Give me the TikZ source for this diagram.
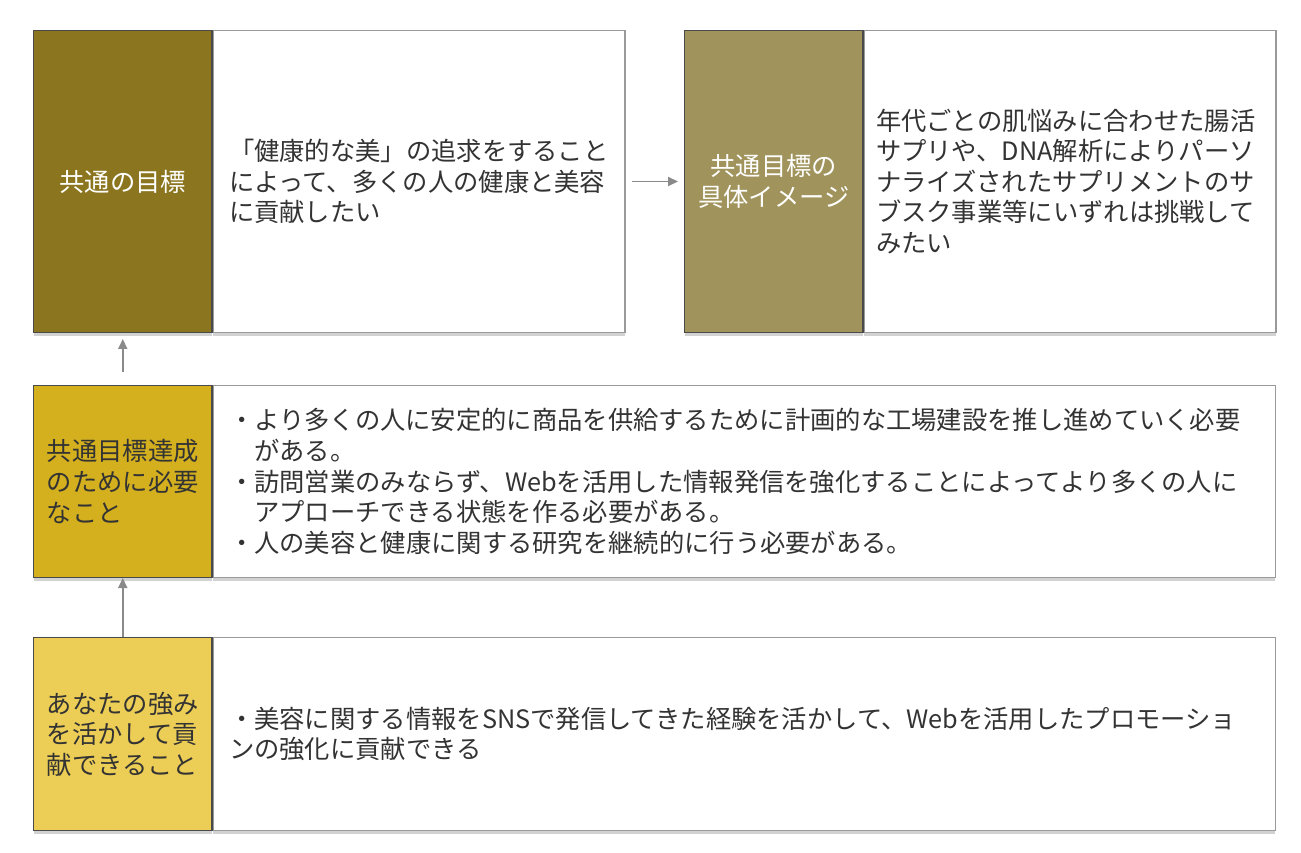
\documentclass[tikz,border=0pt]{standalone}
\usepackage{fontspec}
\setmainfont{Noto Sans CJK JP}
\usetikzlibrary{positioning,arrows.meta,shadows}
\definecolor{goalfill}{HTML}{8B761F}
\definecolor{imagefill}{HTML}{A0935B}
\definecolor{needfill}{HTML}{D4B01F}
\definecolor{strengthfill}{HTML}{ECCD55}
\definecolor{headline}{HTML}{4A4A4A}
\definecolor{panelline}{HTML}{9A9A9A}
\definecolor{bodytext}{HTML}{333333}
\definecolor{arrowgray}{HTML}{8A8A8A}
\definecolor{shadowgray}{HTML}{D2D2D2}
\newcommand{\jpsize}{\fontsize{14.4pt}{17.4pt}\selectfont}
\tikzset{
  boxshadow/.style={drop shadow={shadow xshift=0cm, shadow yshift=-0.07cm, fill=shadowgray, opacity=1}},
  headbox/.style={draw=headline, line width=0.6pt, minimum width=3.57cm, inner sep=0pt,
    anchor=north west, font=\jpsize, boxshadow},
  panelbox/.style={draw=panelline, fill=white, line width=0.6pt, align=left, text=bodytext,
    anchor=north west, inner xsep=0.32cm, inner ysep=0pt, font=\jpsize, boxshadow},
  linkarrow/.style={draw=arrowgray, line width=1.1pt, -{Triangle[length=0.2cm,width=0.18cm]}}
}
\begin{document}
\begin{tikzpicture}[x=0.02cm,y=-0.02cm]
  \useasboundingbox (0,0) rectangle (1301,852);

  \node[headbox, fill=goalfill, text=white, minimum height=6.04cm] (goalhead) at (33,30) {共通の目標};
  \node[panelbox, minimum width=8.24cm, minimum height=6.04cm, text width=7.6cm] (goaltext) at (goalhead.north east)
    {「健康的な美」の追求をすること\\によって、多くの人の健康と美容\\に貢献したい};

  \node[headbox, fill=imagefill, text=white, minimum height=6.04cm, align=center] (imagehead) at (684,30) {共通目標の\\具体イメージ};
  \node[panelbox, minimum width=8.24cm, minimum height=6.04cm, inner xsep=0.24cm, text width=7.76cm] (imagetext) at (imagehead.north east)
    {年代ごとの肌悩みに合わせた腸活\\サプリや、DNA解析によりパーソ\\ナライズされたサプリメントのサ\\ブスク事業等にいずれは挑戦して\\みたい};

  \node[headbox, fill=needfill, text=bodytext, minimum height=3.84cm, align=left] (needhead) at (33,385) {共通目標達成\\のために必要\\なこと};
  \node[panelbox, minimum width=21.25cm, minimum height=3.84cm, text width=20.61cm] (needtext) at (needhead.north east)
    {・より多くの人に安定的に商品を供給するために計画的な工場建設を推し進めていく必要\\
     \hspace*{1em}がある。\\
     ・訪問営業のみならず、Webを活用した情報発信を強化することによってより多くの人に\\
     \hspace*{1em}アプローチできる状態を作る必要がある。\\
     ・人の美容と健康に関する研究を継続的に行う必要がある。};

  \node[headbox, fill=strengthfill, text=bodytext, minimum height=3.86cm, align=left] (strengthhead) at (33,637) {あなたの強み\\を活かして貢\\献できること};
  \node[panelbox, minimum width=21.25cm, minimum height=3.86cm, text width=20.61cm] (strengthtext) at (strengthhead.north east)
    {・美容に関する情報をSNSで発信してきた経験を活かして、Webを活用したプロモーショ\\ンの強化に貢献できる};

  \draw[linkarrow, shorten <=0.12cm, shorten >=0.12cm] (goaltext.east) -- (imagehead.west);
  \draw[linkarrow, shorten <=0.26cm, shorten >=0.12cm] (needhead.north) -- (goalhead.south);
  \draw[linkarrow] (strengthhead.north) -- (needhead.south);
\end{tikzpicture}
\end{document}
